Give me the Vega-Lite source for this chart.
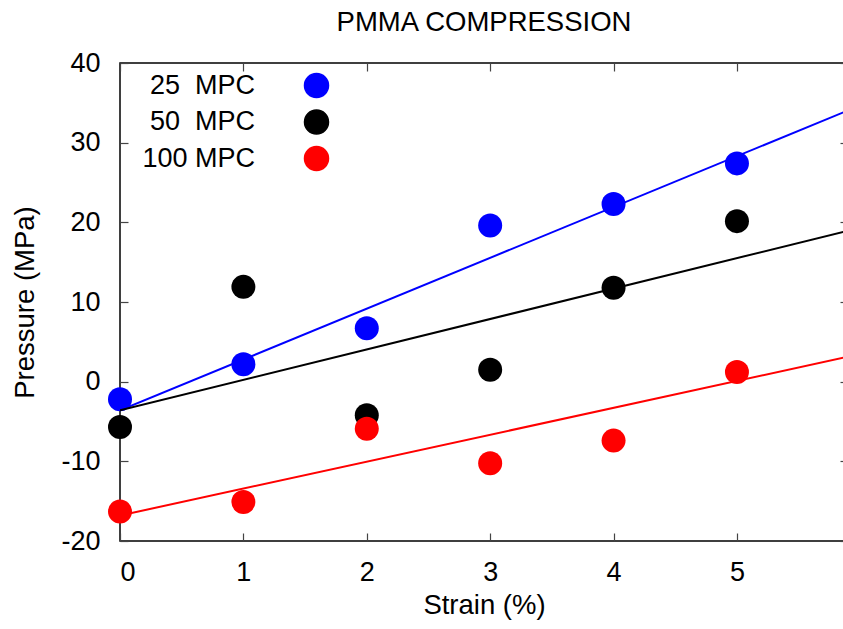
{
  "$schema": "https://vega.github.io/schema/vega-lite/v6.json",
  "width": 728,
  "height": 478,
  "autosize": {"type": "none"},
  "padding": {"left": 120, "top": 63, "right": -5, "bottom": 88},
  "background": "white",
  "config": {
    "font": "Liberation Sans",
    "view": {"stroke": "black", "strokeWidth": 1.5},
    "axis": {
      "grid": false,
      "domain": false,
      "tickSize": -8,
      "tickColor": "#444",
      "tickWidth": 1.2,
      "labelFontSize": 27,
      "labelColor": "black",
      "labelFont": "Liberation Sans",
      "titleFont": "Liberation Sans",
      "titleFontSize": 27.5,
      "titleFontWeight": "normal",
      "titleColor": "black"
    }
  },
  "title": {
    "text": "PMMA COMPRESSION",
    "fontSize": 27.5,
    "fontWeight": "normal",
    "font": "Liberation Sans",
    "color": "black",
    "anchor": "middle",
    "baseline": "alphabetic",
    "frame": "group",
    "offset": -9
  },
  "datasets": {
    "points": [
      {"strain": 0, "pressure": -2.2, "series": "25  MPC"},
      {"strain": 1, "pressure": 2.2, "series": "25  MPC"},
      {"strain": 2, "pressure": 6.7, "series": "25  MPC"},
      {"strain": 3, "pressure": 19.6, "series": "25  MPC"},
      {"strain": 4, "pressure": 22.3, "series": "25  MPC"},
      {"strain": 5, "pressure": 27.4, "series": "25  MPC"},
      {"strain": 0, "pressure": -5.7, "series": "50  MPC"},
      {"strain": 1, "pressure": 11.9, "series": "50  MPC"},
      {"strain": 2, "pressure": -4.2, "series": "50  MPC"},
      {"strain": 3, "pressure": 1.5, "series": "50  MPC"},
      {"strain": 4, "pressure": 11.8, "series": "50  MPC"},
      {"strain": 5, "pressure": 20.15, "series": "50  MPC"},
      {"strain": 0, "pressure": -16.3, "series": "100 MPC"},
      {"strain": 1, "pressure": -15.1, "series": "100 MPC"},
      {"strain": 2, "pressure": -5.9, "series": "100 MPC"},
      {"strain": 3, "pressure": -10.25, "series": "100 MPC"},
      {"strain": 4, "pressure": -7.4, "series": "100 MPC"},
      {"strain": 5, "pressure": 1.2, "series": "100 MPC"}
    ],
    "fits": [
      {"strain": 0, "pressure": -3.6, "series": "25  MPC"},
      {"strain": 5.9, "pressure": 34.05, "series": "25  MPC"},
      {"strain": 0, "pressure": -3.6, "series": "50  MPC"},
      {"strain": 5.9, "pressure": 18.95, "series": "50  MPC"},
      {"strain": 0, "pressure": -16.8, "series": "100 MPC"},
      {"strain": 5.9, "pressure": 3.13, "series": "100 MPC"}
    ]
  },
  "layer": [
    {
      "data": {"name": "points"},
      "mark": {"type": "point", "shape": "circle", "filled": true, "size": 576, "opacity": 1, "strokeWidth": 0},
      "encoding": {
        "x": {
          "field": "strain", "type": "quantitative",
          "scale": {"domain": [0, 5.9], "nice": false, "zero": false},
          "axis": {"orient": "bottom", "title": "Strain (%)", "values": [0, 1, 2, 3, 4, 5], "format": "d", "labelPadding": 26, "titlePadding": 6}
        },
        "y": {
          "field": "pressure", "type": "quantitative",
          "scale": {"domain": [-20, 40], "nice": false, "zero": false},
          "axis": {"orient": "left", "title": "Pressure (MPa)", "values": [-20, -10, 0, 10, 20, 30, 40], "format": "d", "labelPadding": 28, "titlePadding": 21, "labelExpr": "replace(datum.label, '\u2212', '-')"}
        },
        "color": {
          "field": "series", "type": "nominal",
          "scale": {"domain": ["25  MPC", "50  MPC", "100 MPC"], "range": ["#0000ff", "#000000", "#ff0000"]},
          "legend": {
            "title": null,
            "orient": "none",
            "legendX": 183,
            "legendY": 9,
            "symbolType": "circle",
            "symbolSize": 576,
            "labelFontSize": 27,
            "labelColor": "black",
            "labelAlign": "right",
            "labelOffset": -75,
            "labelLimit": 300,
            "rowPadding": 5.5,
            "labelExpr": "replace(datum.label, '  ', '\u00a0\u00a0')"
          }
        }
      }
    },
    {
      "data": {"name": "fits"},
      "mark": {"type": "line", "strokeWidth": 2, "clip": true},
      "encoding": {
        "x": {
          "field": "strain", "type": "quantitative",
          "axis": {"orient": "top", "labels": false, "title": null, "values": [0, 1, 2, 3, 4, 5]}
        },
        "y": {
          "field": "pressure", "type": "quantitative",
          "axis": {"orient": "right", "labels": false, "title": null, "values": [-20, -10, 0, 10, 20, 30, 40]}
        },
        "color": {"field": "series", "type": "nominal"}
      }
    }
  ],
  "resolve": {"axis": {"x": "independent", "y": "independent"}}
}
